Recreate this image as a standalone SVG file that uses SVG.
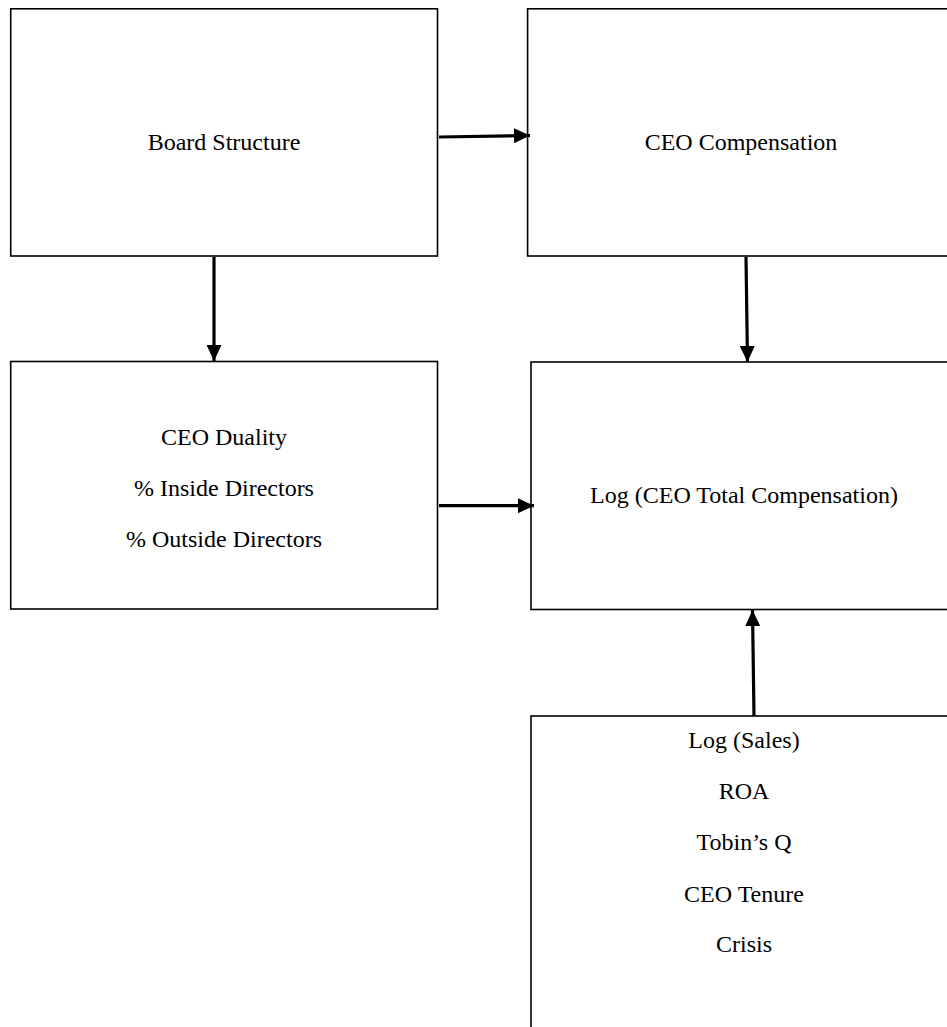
<svg xmlns="http://www.w3.org/2000/svg" width="947" height="1027" viewBox="0 0 947 1027">
<style>
.box{fill:#fff;stroke:#000;stroke-width:1.6}
.lbl{font-family:"Liberation Serif","Times New Roman",serif;font-size:24px;fill:#000;text-anchor:middle}
.conn{stroke:#000;stroke-width:3.2;fill:none}
</style>
<defs>
<marker id="ah" markerUnits="userSpaceOnUse" markerWidth="16" markerHeight="15" refX="16" refY="7.5" orient="auto">
<path d="M0,0 L16,7.5 L0,15 z" fill="#000"/>
</marker>
</defs>
<rect width="947" height="1027" fill="#fff"/>
<g id="board-structure">
<rect class="box" x="10.7" y="8.8" width="426.8" height="247.2"/>
<text class="lbl" x="224" y="150">Board Structure</text>
</g>
<g id="ceo-compensation">
<rect class="box" x="527.6" y="8.8" width="426" height="247.2"/>
<text class="lbl" x="741" y="150">CEO Compensation</text>
</g>
<g id="board-vars">
<rect class="box" x="10.7" y="361.5" width="426.8" height="247.5"/>
<text class="lbl" x="224" y="445">CEO Duality</text>
<text class="lbl" x="224" y="496">% Inside Directors</text>
<text class="lbl" x="224" y="547">% Outside Directors</text>
</g>
<g id="log-total-comp">
<rect class="box" x="531" y="362" width="426" height="247.5"/>
<text class="lbl" x="744" y="503">Log (CEO Total Compensation)</text>
</g>
<g id="controls">
<rect class="box" x="531" y="716" width="426" height="340"/>
<text class="lbl" x="744" y="748">Log (Sales)</text>
<text class="lbl" x="744" y="799">ROA</text>
<text class="lbl" x="744" y="850">Tobin’s Q</text>
<text class="lbl" x="744" y="902">CEO Tenure</text>
<text class="lbl" x="744" y="952">Crisis</text>
</g>
<g id="connectors">
<line class="conn" x1="439" y1="137" x2="530" y2="135.5" marker-end="url(#ah)"/>
<line class="conn" x1="214" y1="257" x2="214" y2="361" marker-end="url(#ah)"/>
<line class="conn" x1="746" y1="257" x2="747.5" y2="362" marker-end="url(#ah)"/>
<line class="conn" x1="439" y1="505.7" x2="534" y2="505.7" marker-end="url(#ah)"/>
<line class="conn" x1="754" y1="716" x2="752.5" y2="610" marker-end="url(#ah)"/>
</g>
</svg>
